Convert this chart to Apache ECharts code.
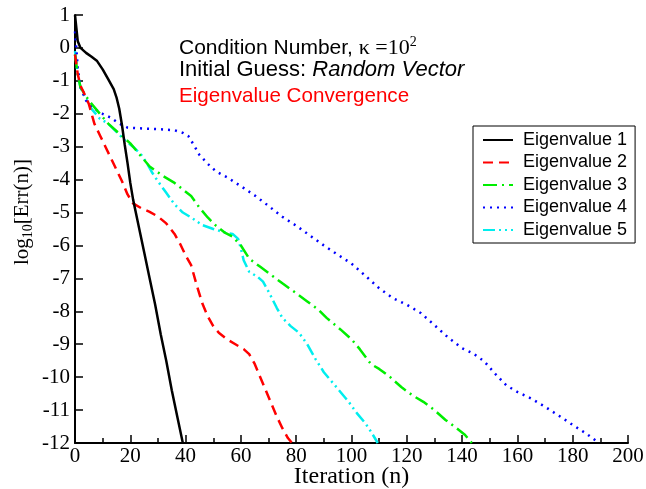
<!DOCTYPE html>
<html><head><meta charset="utf-8">
<script src="https://cdn.jsdelivr.net/npm/echarts@6/dist/echarts.min.js"></script>
<style>html,body{margin:0;padding:0;background:#fff}#c{width:646px;height:489px}</style>
</head><body><div id="c"></div>
<script>
var seriesNames = ['Eigenvalue 1','Eigenvalue 2','Eigenvalue 3','Eigenvalue 4','Eigenvalue 5'];
var xTicks = [0,20,40,60,80,100,120,140,160,180,200];
var yTicks = [1,0,-1,-2,-3,-4,-5,-6,-7,-8,-9,-10,-11,-12];

var e1x = [0,0.5,1,2,4,6,8,10,12,14,15,16,17,18,19,20,21,23,25,27,29,31,33,35,37,39];
var e1y = [1,0.6,0.2,0,-0.15,-0.27,-0.4,-0.65,-0.95,-1.25,-1.5,-1.85,-2.35,-2.95,-3.5,-4.1,-4.6,-5.4,-6.2,-7.0,-7.8,-8.7,-9.5,-10.4,-11.2,-12];

var e2x = [0,1,2,4,5,7,9,11,13,15,17,19,21,24,27,30,33,36,38,40,42,44,46,48,50,52,55,58,61,63,65,67,69,71,73,75,77,78.5];
var e2y = [-0.2,-0.8,-1.15,-1.5,-1.7,-2.3,-2.65,-3.0,-3.35,-3.7,-4.05,-4.45,-4.72,-4.87,-4.98,-5.12,-5.33,-5.65,-5.95,-6.3,-6.6,-7.2,-7.75,-8.15,-8.45,-8.65,-8.85,-9.0,-9.15,-9.3,-9.6,-10.0,-10.4,-10.8,-11.2,-11.55,-11.85,-12];

var e3x = [0,1,2,5,9,12,16,20,24,27,32,36,39,42,45,48,51,54,57,60,63,67,71,75,80,84,88,91,96,100,103,107,110,114,118,122,126,130,134,138,141,143.5];
var e3y = [-0.2,-0.8,-1.2,-1.6,-2.0,-2.3,-2.6,-2.9,-3.3,-3.6,-3.9,-4.1,-4.3,-4.5,-4.85,-5.15,-5.4,-5.6,-5.73,-6.0,-6.4,-6.65,-6.9,-7.15,-7.45,-7.7,-7.95,-8.2,-8.55,-8.85,-9.15,-9.6,-9.75,-10.0,-10.3,-10.55,-10.75,-11.0,-11.3,-11.55,-11.75,-12];

var e4x = [0,1,2,4,7,10,13,16,19,25,31,36,39,41,43,45,48,51,55,60,65,70,75,80,85,90,95,100,105,110,115,120,125,130,135,140,144,148,152,156,160,165,170,175,180,185,189.5];
var e4y = [0.5,-0.6,-1.2,-1.6,-1.85,-2.0,-2.12,-2.3,-2.42,-2.45,-2.47,-2.5,-2.58,-2.68,-2.95,-3.25,-3.52,-3.75,-3.93,-4.2,-4.48,-4.8,-5.13,-5.4,-5.7,-6.0,-6.28,-6.55,-6.92,-7.3,-7.6,-7.8,-8.05,-8.42,-8.8,-9.12,-9.28,-9.52,-9.9,-10.25,-10.45,-10.65,-10.9,-11.17,-11.45,-11.72,-12];

var e5x = [0,1,2,4,6,9,12,15,18,21,24,26,28,30,33,36,39,42,46,50,54,57,59,60,61,63,66,68,70,73,75,78,81,84,87,90,93,96,99,102,105,107,109.5];
var e5y = [-0.1,-0.8,-1.2,-1.55,-1.85,-2.15,-2.3,-2.55,-2.8,-3.0,-3.25,-3.5,-3.8,-4.05,-4.4,-4.75,-5.0,-5.15,-5.38,-5.5,-5.6,-5.65,-5.8,-6.1,-6.45,-6.8,-6.95,-7.1,-7.4,-7.9,-8.2,-8.45,-8.65,-9.0,-9.45,-9.85,-10.15,-10.45,-10.75,-11.1,-11.4,-11.65,-12];

var colors = ['#000000','#ff0000','#00ee00','#0000ff','#00eeee'];
var dashes = ['solid',[10,6],[14,5,2,5],[2,5],[12,4,2,4,2,4]];
var widths = [2.5,2.5,2.5,2.5,2.5];
var xsAll = [e1x,e2x,e3x,e4x,e5x];
var ysAll = [e1y,e2y,e3y,e4y,e5y];

function pairs(xs, ys){ return xs.map(function(x,i){ return [x, ys[i]]; }); }

var serif = 'Liberation Serif';
var sans = 'Liberation Sans';

var series = seriesNames.map(function(n,i){
  return {
    name: n, type: 'line', data: pairs(xsAll[i], ysAll[i]),
    showSymbol: false, symbol: 'none', smooth: false, clip: true,
    lineStyle: {color: colors[i], width: widths[i], type: dashes[i]},
    itemStyle: {color: colors[i]},
    z: 5 - i
  };
});

var chart = echarts.init(document.getElementById('c'), null, {renderer: 'canvas'});
chart.setOption({
  animation: false,
  backgroundColor: '#ffffff',
  grid: {left: 75, right: 18, top: 15, bottom: 46, containLabel: false, outerBoundsMode: 'none'},
  xAxis: {
    type: 'value', min: 0, max: 200, interval: 20,
    axisLine: {show: true, onZero: false, lineStyle: {color: '#000', width: 2}},
    axisTick: {show: true, inside: true, length: 8, lineStyle: {color: '#000', width: 1.5}},
    minorTick: {show: true, splitNumber: 2, length: 5, lineStyle: {color: '#000', width: 1.5}},
    splitLine: {show: false},
    axisLabel: {color: '#000', fontFamily: serif, fontSize: 21, margin: 3,
      formatter: function(v){ return xTicks.indexOf(v) >= 0 ? String(v) : ''; }},
    name: 'Iteration (n)', nameLocation: 'middle', nameGap: 22, nameMoveOverlap: false,
    nameTextStyle: {color: '#000', fontFamily: serif, fontSize: 24, verticalAlign: 'top'}
  },
  yAxis: {
    type: 'value', min: -12, max: 1, interval: 1,
    axisLine: {show: true, onZero: false, lineStyle: {color: '#000', width: 2}},
    axisTick: {show: true, inside: true, length: 8, lineStyle: {color: '#000', width: 1.5}},
    splitLine: {show: false},
    axisLabel: {color: '#000', fontFamily: serif, fontSize: 21, margin: 5,
      formatter: function(v){ return yTicks.indexOf(v) >= 0 ? String(v) : ''; }}
  },
  legend: {
    orient: 'vertical', left: 473, top: 126,
    data: seriesNames,
    backgroundColor: '#fff', borderColor: '#000', borderWidth: 1, borderRadius: 0,
    padding: [5, 8, 4, 9],
    itemWidth: 30, itemHeight: 12, itemGap: 4.5,
    itemStyle: {opacity: 0, color: 'rgba(0,0,0,0)', borderWidth: 0},
    textStyle: {color: '#000', fontFamily: sans, fontSize: 18, padding: [0,0,0,5]},
    selectedMode: false
  },
  graphic: [
    {type: 'text', left: 179, top: 35, z: 10, style: {
      text: '{a|Condition Number, }{k|κ =10}{s|2}',
      rich: {
        a: {fontFamily: sans, fontSize: 21, fill: '#000'},
        k: {fontFamily: serif, fontSize: 22, fill: '#000'},
        s: {fontFamily: serif, fontSize: 14, fill: '#000', padding: [0,0,12,0]}
      }}},
    {type: 'text', left: 179, top: 59, z: 10, style: {
      text: '{a|Initial Guess: }{b|Random Vector}',
      rich: {
        a: {fontFamily: sans, fontSize: 22, fill: '#000'},
        b: {fontFamily: sans, fontSize: 22, fontStyle: 'italic', fill: '#000'}
      }}},
    {type: 'text', left: 179, top: 86, z: 10, style: {
      text: 'Eigenvalue Convergence', font: '20.6px "Liberation Sans"', fill: '#ff0000'}},
    {type: 'text', x: 22, y: 212, rotation: Math.PI/2, z: 10, style: {
      text: '{a|log}{s|10}{a|[Err(n)]}', align: 'center', verticalAlign: 'middle',
      rich: {
        a: {fontFamily: serif, fontSize: 21, fill: '#000'},
        s: {fontFamily: serif, fontSize: 14, fill: '#000', padding: [12,0,0,0]}
      }}}
  ],
  series: series
});
</script></body></html>
